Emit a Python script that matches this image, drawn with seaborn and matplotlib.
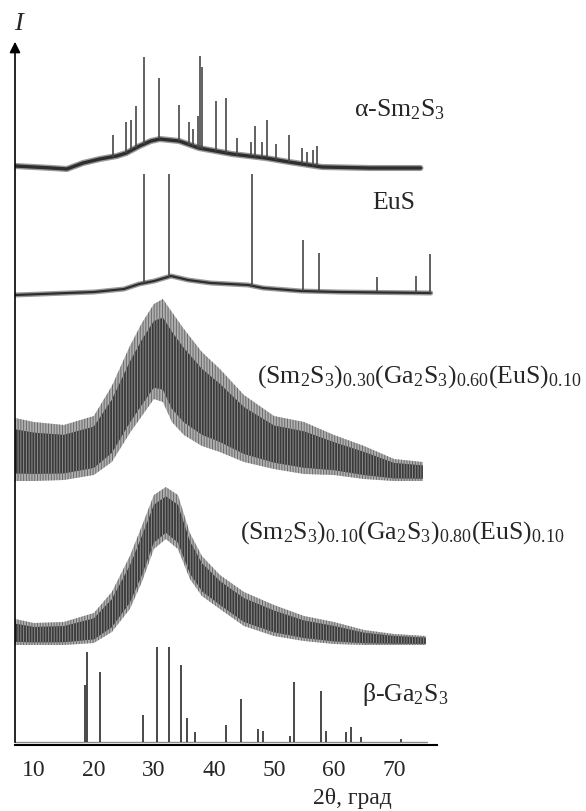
import matplotlib
matplotlib.use("Agg")
import matplotlib.pyplot as plt
import seaborn as sns
import numpy as np

# 2theta ticks
ticks = [10, 20, 30, 40, 50, 60, 70]

# alpha-Sm2S3: background and peaks (arbitrary intensity units, stacked)
sm_base_x = [6.9, 10, 13, 15.5, 18.2, 21, 23.8, 25.4, 27.6, 29.5, 31, 34.2, 37.5, 43, 48.6, 52.5, 58, 66, 74.4]
sm_base_y = [579, 578, 577, 576, 582, 586, 589, 592, 599, 604, 606, 604, 597, 591, 587, 583, 578, 577, 577]
sm_peak_x = [23.15, 25.37, 26.2, 27.03, 28.42, 30.87, 34.25, 35.87, 36.48, 37.42, 37.75, 38.08, 40.42,
             41.98, 43.87, 46.15, 46.92, 48.08, 48.92, 50.37, 52.53, 54.65, 55.48, 56.42, 57.2]
sm_peak_y = [610, 623, 625, 639, 688, 667, 640, 623, 616, 629, 689, 678, 644,
             647, 607, 603, 619, 603, 625, 601, 610, 597, 593, 595, 599]

# EuS
eus_base_x = [6.9, 20.03, 25.03, 27.55, 30.05, 32.87, 35.7, 39.45, 45.7, 48.2, 54.5, 60.75, 76.1]
eus_base_y = [450, 453, 456, 461, 464, 469, 465, 462, 460, 457, 454, 453, 452]
eus_peak_x = [28.37, 32.57, 46.42, 54.87, 57.57, 67.2, 73.67, 75.98]
eus_peak_y = [571, 571, 571, 505, 492, 468, 469, 491]

# (Sm2S3)0.30(Ga2S3)0.60(EuS)0.10 - amorphous, upper / lower envelope
a30_x = [6.9, 10, 15, 20, 23, 26, 28, 30, 31.5, 33, 35, 38, 41, 45, 50, 55, 60, 65, 70, 74.8]
a30_hi = [327, 323, 320, 329, 359, 399, 422, 441, 446, 433, 416, 393, 376, 350, 329, 323, 310, 299, 286, 283]
a30_lo = [264, 264, 265, 270, 283, 312, 329, 346, 343, 323, 310, 299, 293, 283, 276, 271, 270, 266, 264, 264]

# (Sm2S3)0.10(Ga2S3)0.80(EuS)0.10
a10_x = [6.9, 10, 15, 20, 23, 26, 28, 30, 32, 34, 36, 38, 41, 45, 50, 55, 60, 65, 70, 75.3]
a10_hi = [126, 122, 123, 132, 153, 189, 219, 250, 258, 250, 212, 189, 170, 153, 140, 129, 123, 115, 111, 109]
a10_lo = [100, 100, 100, 102, 113, 136, 163, 196, 206, 196, 166, 149, 136, 119, 109, 104, 101, 100, 100, 100]

# beta-Ga2S3
ga_base_x = [6.9, 75.5]
ga_base_y = [3, 3]
ga_peak_x = [18.5, 18.8, 21.0, 28.2, 30.6, 32.6, 34.5, 35.5, 36.9, 42.0, 44.5, 47.3, 48.2,
             52.6, 53.4, 57.9, 58.6, 62.0, 62.9, 64.5, 71.1]
ga_peak_y = [60, 93, 73, 30, 98, 98, 80, 27, 13, 20, 46, 16, 14,
             9, 63, 54, 14, 13, 18, 8, 6]

sns.set_style("white")
plt.rcParams["font.family"] = ["Liberation Serif", "DejaVu Serif"]
plt.rcParams["mathtext.fontset"] = "custom"
plt.rcParams["mathtext.rm"] = "Liberation Serif"
plt.rcParams["mathtext.it"] = "Liberation Serif:italic"
plt.rcParams["hatch.linewidth"] = 0.7

fig = plt.figure(figsize=(5.86, 8.12), dpi=100)
ax = fig.add_axes([15 / 586, 66 / 812, 422 / 586, 706 / 812])

dark = "#2e2e2e"


def crystal(bx, by, px, py, lw):
    # soft halo for the noisy background, then the trace itself
    sns.lineplot(x=bx, y=by, ax=ax, color="#9a9a9a", lw=lw + 2)
    sns.lineplot(x=bx, y=by, ax=ax, color=dark, lw=lw)
    foot = np.interp(px, bx, by)
    ax.vlines(px, foot, py, color="#474747", lw=1.2)


def amorphous(x, hi, lo):
    hi = np.array(hi, float)
    lo = np.array(lo, float)
    ax.fill_between(x, lo, hi, facecolor="#b0b0b0", edgecolor="#6a6a6a",
                    hatch="||||||", lw=0)
    span = hi - lo
    ax.fill_between(x, lo + 0.12 * span, hi - 0.18 * span, facecolor="#3a3a3a",
                    edgecolor="#8c8c8c", hatch="||||||", lw=0)


crystal(sm_base_x, sm_base_y, sm_peak_x, sm_peak_y, 2.4)
crystal(eus_base_x, eus_base_y, eus_peak_x, eus_peak_y, 1.6)
amorphous(a30_x, a30_hi, a30_lo)
amorphous(a10_x, a10_hi, a10_lo)
sns.lineplot(x=ga_base_x, y=ga_base_y, ax=ax, color="#8a8a8a", lw=1.0)
foot = np.interp(ga_peak_x, ga_base_x, ga_base_y)
ax.vlines(ga_peak_x, foot, ga_peak_y, color="#3a3a3a", lw=1.3)

ax.set_xlim(6.87, 77.15)
ax.set_ylim(0, 706)
ax.set_xticks(ticks)
ax.set_yticks([])
ax.tick_params(axis="x", direction="in", length=6, width=1, pad=10, labelsize=17)
for s in ["top", "right", "left"]:
    ax.spines[s].set_visible(False)
ax.spines["bottom"].set_linewidth(1.5)
ax.spines["bottom"].set_color("black")
ax.annotate("", xy=(0, 1), xycoords="axes fraction", xytext=(0, 0),
            arrowprops=dict(arrowstyle="-|>", color="black", lw=1.2, mutation_scale=16))

fs = 18.5
ax.text(70.9, 636, r"α-Sm$_2$S$_3$", fontsize=fs, ha="center", va="center")
ax.text(69.95, 543, "EuS", fontsize=fs, ha="center", va="center")
ax.text(47.1, 369, r"(Sm$_2$S$_3$)$_{0.30}$(Ga$_2$S$_3$)$_{0.60}$(EuS)$_{0.10}$",
        fontsize=fs, ha="left", va="center", clip_on=False)
ax.text(44.4, 213, r"(Sm$_2$S$_3$)$_{0.10}$(Ga$_2$S$_3$)$_{0.80}$(EuS)$_{0.10}$",
        fontsize=fs, ha="left", va="center", clip_on=False)
ax.text(71.9, 51, r"β-Ga$_2$S$_3$", fontsize=fs, ha="center", va="center")
ax.text(7.45, 722, "I", fontsize=19, style="italic", ha="center", va="center", clip_on=False)
ax.text(0.80, -0.075, "2θ, град", fontsize=17, ha="center", va="center", transform=ax.transAxes)

fig.savefig("out.png", dpi=100)
